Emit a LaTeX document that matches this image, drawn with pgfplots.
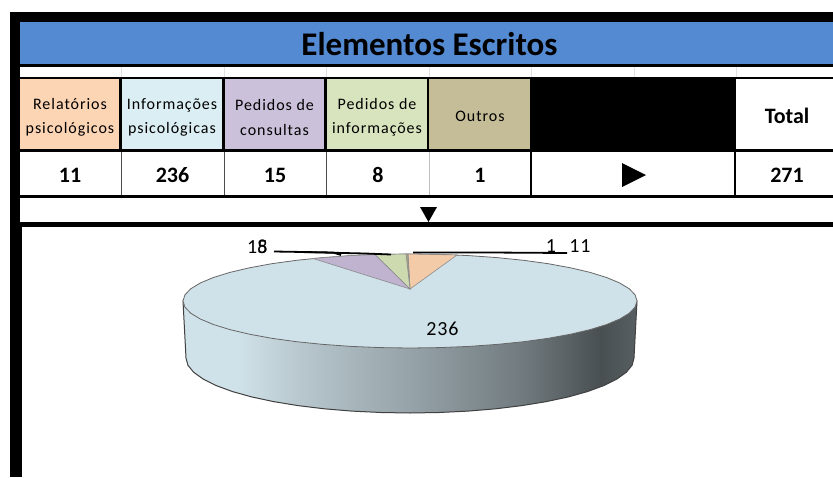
\documentclass[border=0pt]{standalone}
\usepackage{fontspec}
\usepackage{pgfplots}
\pgfplotsset{compat=1.18}
\setmainfont{Carlito}
\newfontfamily\hdr[LetterSpace=6]{Carlito}
\newfontfamily\lbl[LetterSpace=4]{Carlito}
\definecolor{band}{HTML}{538AD2}
\definecolor{cOrange}{HTML}{FCD5B5}
\definecolor{cBlue}{HTML}{DBEEF4}
\definecolor{cPurple}{HTML}{CCC1DA}
\definecolor{cGreen}{HTML}{D7E4BD}
\definecolor{cTan}{HTML}{C4BD97}
\definecolor{pieBlue}{HTML}{D0E2E9}
\definecolor{pieOrange}{HTML}{F3CBA8}
\definecolor{piePurple}{HTML}{BFB3CF}
\definecolor{pieGreen}{HTML}{CDDAB0}
\definecolor{pieBrown}{HTML}{A8A283}
\pgfdeclarehorizontalshading{sideshade}{100bp}{
  color(0bp)=(pieBlue); color(25bp)=(pieBlue); color(31bp)=(pieBlue);
  color(38bp)=(pieBlue!88!black); color(50bp)=(pieBlue!72!black); color(62bp)=(pieBlue!55!black);
  color(71bp)=(pieBlue!35!black); color(75bp)=(pieBlue!42!black); color(100bp)=(pieBlue!42!black)}
\newcommand{\hd}[3]{\node[align=center,font=\fontsize{16}{24.5}\selectfont\hdr] at (#1,117.5) {#2\\#3};}
\newcommand{\val}[2]{\node[font=\fontsize{22}{24}\selectfont\bfseries] at (#1,175) {#2};}
\begin{document}
\begin{tikzpicture}
\begin{axis}[
    x=1pt, y=1pt,
    xmin=0, xmax=833, ymin=0, ymax=477,
    y dir=reverse,
    hide axis,
    clip=true,
    ]
% page background, keeps the white margin in the bounding box
\fill[white] (0,0) rectangle (833,477);
% frame
\fill[black] (10,12) rectangle (833,22);
\fill[black] (10,12) rectangle (20,227);
\fill[black] (10,227) rectangle (22,477);
\fill[band] (20,22) rectangle (833,64);
\fill[black] (20,64) rectangle (833,67);
\fill[black] (20,77) rectangle (833,79);
\pgfplotsinvokeforeach{121,224,326,429,531,634,736}{
  \draw[black!12,line width=0.8pt] (#1,67) -- (#1,77);
}
% header row
\fill[black] (20,79) rectangle (833,152);
\fill[cOrange] (20,79) rectangle (119,149);
\fill[cBlue] (121.5,79) rectangle (222,149);
\fill[cPurple] (224.5,79) rectangle (324,149);
\fill[cGreen] (327,79) rectangle (427,149);
\fill[cTan] (429,79) rectangle (530,149);
\fill[white] (736,79) rectangle (833,149);
% value row
\fill[black] (20,195) rectangle (833,198);
\pgfplotsinvokeforeach{121.5,224,326.5}{
  \draw[black!70,line width=0.8pt] (#1,152) -- (#1,195);
}
\draw[black!25,line width=0.9pt] (429,152) -- (429,195);
\draw[black,line width=1.2pt] (531,152) -- (531,195);
\draw[black,line width=1.2pt] (735,152) -- (735,195);
% bottom rule of the table
\fill[black] (20,222) rectangle (833,227);
\fill[black] (622,163) -- (622,187) -- (646,175) -- cycle;
\fill[black] (420,207) -- (437,207) -- (428.5,222) -- cycle;
% text
\node[font=\fontsize{33}{34}\selectfont\bfseries] at (429.5,44) {Elementos Escritos};
\hd{70}{Relatórios}{psicológicos}
\hd{172}{Informações}{psicológicas}
\hd{274.5}{Pedidos de}{consultas}
\hd{377}{Pedidos de}{informações}
\node[font=\fontsize{16}{24}\selectfont\hdr] at (480,116) {Outros};
\node[font=\fontsize{22}{24}\selectfont\bfseries] at (787,116) {Total};
\val{70}{11}
\val{172.5}{236}
\val{275}{15}
\val{378}{8}
\val{480}{1}
\val{787}{271}
% pie side wall
\addplot[draw=black!75,line width=1pt,shading=sideshade,shading angle=0] coordinates {
  (183,301) (637,301)
  (634,358) (632.1,365.2) (626.4,372.2) (616.9,379) (604,385.5) (587.7,391.5)
  (568.4,396.9) (546.4,401.6) (522,405.6) (495.7,408.8) (468,411.1) (439.2,412.5)
  (410,413) (380.8,412.5) (352,411.1) (324.3,408.8) (298,405.6) (273.6,401.6)
  (251.6,396.9) (232.3,391.5) (216,385.5) (203.1,379) (193.6,372.2) (187.9,365.2)
  (186,358)} -- cycle;
% pie top
\addplot[draw=black!60,line width=0.8pt,fill=pieBlue] coordinates {
  (637,301) (635.1,307.1) (629.3,313.2) (619.7,319) (606.6,324.5) (590.1,329.6)
  (570.5,334.2) (548.2,338.3) (523.5,341.7) (496.9,344.4) (468.8,346.4) (439.6,347.6)
  (410,348) (380.4,347.6) (351.2,346.4) (323.1,344.4) (296.5,341.7) (271.8,338.3)
  (249.5,334.2) (229.9,329.6) (213.4,324.5) (200.3,319) (190.7,313.2) (184.9,307.1)
  (183,301) (184.9,294.9) (190.7,288.8) (200.3,283) (213.4,277.5) (229.9,272.4)
  (249.5,267.8) (271.8,263.7) (296.5,260.3) (323.1,257.6) (351.2,255.6) (380.4,254.4)
  (410,254) (439.6,254.4) (468.8,255.6) (496.9,257.6) (523.5,260.3) (548.2,263.7)
  (570.5,267.8) (590.1,272.4) (606.6,277.5) (619.7,283) (629.3,288.8) (635.1,294.9)} -- cycle;
% small slices
\addplot[draw=black!45,line width=0.6pt,fill=pieOrange] coordinates {(410,289) (408,254) (457,255)} -- cycle;
\addplot[draw=black!45,line width=0.6pt,fill=pieBrown] coordinates {(410,289) (406,254) (408,254)} -- cycle;
\addplot[draw=black!45,line width=0.6pt,fill=pieGreen] coordinates {(410,289) (375,254.6) (406,254)} -- cycle;
\addplot[draw=black!45,line width=0.6pt,fill=piePurple] coordinates {(410,289) (313,258.5) (351,255.6) (375,254.6)} -- cycle;
% leader lines
\addplot[black,line width=1.8pt] coordinates {(274,251.5) (333,252.5) (341,255)};
\addplot[black,line width=1.8pt] coordinates {(300,252) (365,253.5) (391,254.5)};
\addplot[black,line width=1.8pt] coordinates {(413,252.5) (489,252.5) (567,253)};
% slice labels
\node[anchor=east,font=\fontsize{20}{20}\selectfont] at (271,247) {15};
\node[anchor=east,font=\fontsize{20}{20}\selectfont] at (271,247) {8};
\node[font=\fontsize{20}{20}\selectfont\lbl] at (551,246) {1};
\node[font=\fontsize{20}{20}\selectfont\lbl] at (580,246) {11};
\node[font=\fontsize{20}{20}\selectfont\lbl] at (442.5,329) {236};
\end{axis}
\end{tikzpicture}
\end{document}
